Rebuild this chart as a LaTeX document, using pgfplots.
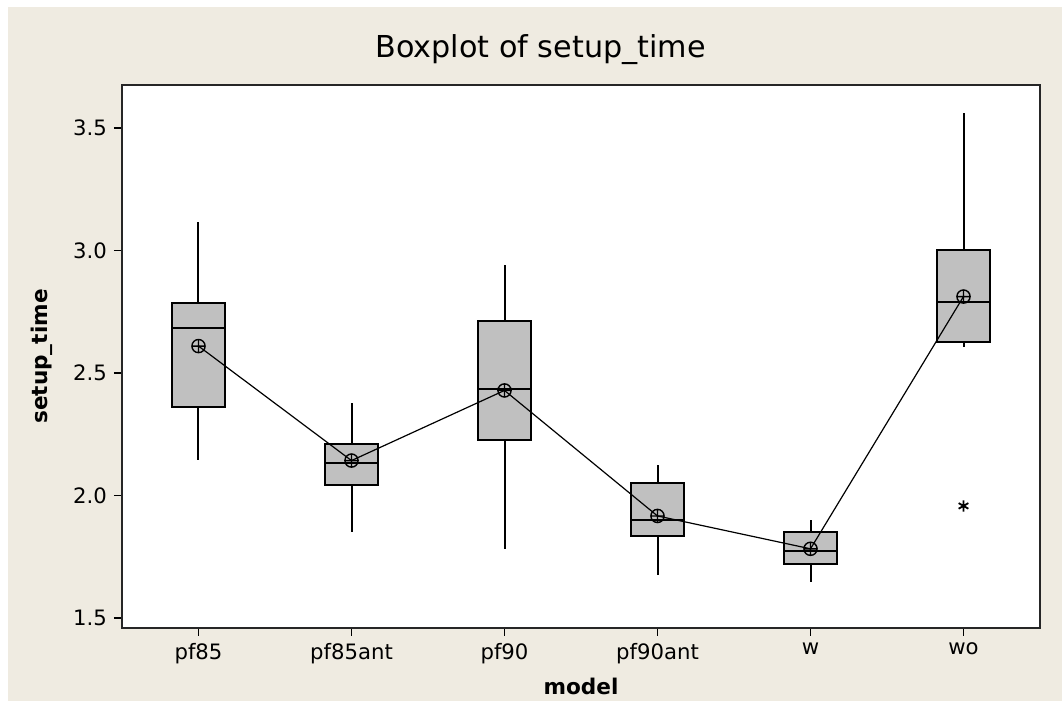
\documentclass[border=0pt]{standalone}
\usepackage{fontspec}
\setmainfont{DejaVu Sans}
\usepackage{pgfplots}
\pgfplotsset{compat=1.18}
\usepgfplotslibrary{statistics}

\definecolor{bgbeige}{RGB}{239,235,225}
\definecolor{boxgray}{RGB}{192,192,192}

\begin{document}
\begin{tikzpicture}
\path[use as bounding box] (0,0) rectangle (531pt,350.5pt);
\fill[bgbeige] (4pt,0) rectangle (531pt,347pt);
\begin{axis}[
    at={(61pt,36.5pt)}, anchor=south west,
    scale only axis,
    width=459pt, height=271.5pt,
    xmin=0.5, xmax=6.5,
    ymin=1.46, ymax=3.675,
    axis background/.style={fill=white},
    axis line style={line width=1pt, black!85},
    xtick={1,2,3,4,5,6},
    xticklabels={pf85,pf85ant,pf90,pf90ant,w,wo},
    ytick={1.5,2,2.5,3,3.5},
    yticklabel style={/pgf/number format/.cd, fixed, fixed zerofill, precision=1},
    /pgf/number format/assume math mode=true,
    tick align=outside,
    xtick pos=bottom, ytick pos=left,
    major tick length=4pt,
    tick style={black, line width=0.8pt},
    ticklabel style={font=\fontsize{10.6}{12}\selectfont},
    title={Boxplot of setup\_time},
    title style={font=\fontsize{15.1}{18}\selectfont, at={(axis description cs:0.456,1)}, anchor=center, yshift=11.5pt},
    xlabel={\textbf{model}},
    xlabel style={font=\fontsize{10.8}{13}\selectfont, at={(axis description cs:0.5,0)}, anchor=center, yshift=-29pt},
    ylabel={\textbf{setup\_time}},
    ylabel style={font=\fontsize{10.8}{13}\selectfont, at={(axis description cs:0,0.5)}, anchor=center, yshift=40pt},
    boxplot/draw direction=y,
    boxplot/box extend=0.34,
    boxplot/whisker extend=0,
]
% boxes: lower whisker, Q1, median, Q3, upper whisker
\addplot[boxplot prepared={draw position=1, lower whisker=2.147, lower quartile=2.361, median=2.683, upper quartile=2.784, upper whisker=3.117}, draw=black, fill=boxgray, line width=1pt] coordinates {};
\addplot[boxplot prepared={draw position=2, lower whisker=1.852, lower quartile=2.045, median=2.133, upper quartile=2.210, upper whisker=2.377}, draw=black, fill=boxgray, line width=1pt] coordinates {};
\addplot[boxplot prepared={draw position=3, lower whisker=1.784, lower quartile=2.228, median=2.436, upper quartile=2.714, upper whisker=2.942}, draw=black, fill=boxgray, line width=1pt] coordinates {};
\addplot[boxplot prepared={draw position=4, lower whisker=1.676, lower quartile=1.836, median=1.900, upper quartile=2.053, upper whisker=2.126}, draw=black, fill=boxgray, line width=1pt] coordinates {};
\addplot[boxplot prepared={draw position=5, lower whisker=1.649, lower quartile=1.722, median=1.775, upper quartile=1.853, upper whisker=1.900}, draw=black, fill=boxgray, line width=1pt] coordinates {};
\addplot[boxplot prepared={draw position=6, lower whisker=2.608, lower quartile=2.627, median=2.791, upper quartile=3.002, upper whisker=3.561}, draw=black, fill=boxgray, line width=1pt, mark=asterisk, mark size=2.8pt, mark options={line width=0.9pt}] table[row sep=\\, y index=0] {data\\ 1.958\\};
% means connected
\addplot[black, line width=0.6pt, mark=oplus, mark size=3.3pt, mark options={line width=0.7pt}] coordinates {(1,2.610) (2,2.143) (3,2.429) (4,1.917) (5,1.783) (6,2.812)};
\end{axis}
\end{tikzpicture}
\end{document}
